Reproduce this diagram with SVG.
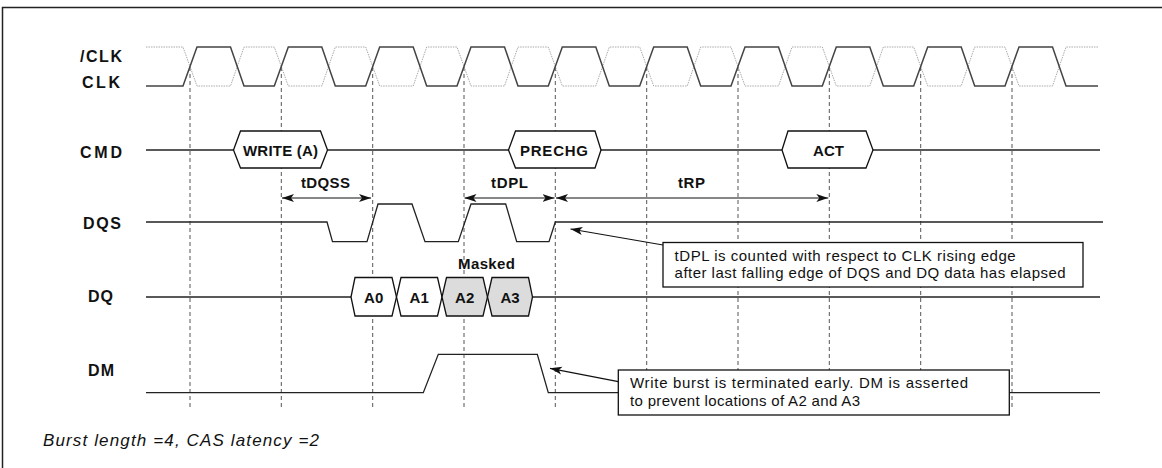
<svg xmlns="http://www.w3.org/2000/svg" width="1162" height="468" viewBox="0 0 1162 468">
<defs>
<style>
.lbl{font-family:"Liberation Sans",Arial,sans-serif;font-size:15px;font-weight:bold;fill:#111}
.sig{font-family:"Liberation Sans",Arial,sans-serif;font-size:16px;font-weight:bold;fill:#111}
.txt{font-family:"Liberation Sans",Arial,sans-serif;font-size:15px;fill:#111}
.foot{font-family:"Liberation Sans",Arial,sans-serif;font-size:17px;font-style:italic;fill:#111}
.grid{stroke:#555;stroke-width:1;stroke-dasharray:4,3;fill:none}
.wave{stroke:#222;stroke-width:1.3;fill:none}
.clk{stroke:#444;stroke-width:1.5;fill:none}
.nclk{stroke:#aaa;stroke-width:1;stroke-dasharray:1.5,1;fill:none}
.box{stroke:#111;stroke-width:1.3;fill:#fff}
.mbox{stroke:#111;stroke-width:1.3;fill:#dcdcdc}
.dim{stroke:#111;stroke-width:1.2;fill:none}
.note{stroke:#111;stroke-width:1.3;fill:#fff}
</style>
<marker id="ah" viewBox="0 -5 12 10" refX="12" refY="0" markerWidth="12" markerHeight="10" markerUnits="userSpaceOnUse" orient="auto-start-reverse">
<path d="M0,-4 L12,0 L0,4 L3,0 z" fill="#111"/>
</marker>
</defs>
<rect x="2.5" y="7.5" width="1200" height="500" fill="none" stroke="#222" stroke-width="1.5"/>

<g id="gridlines">
<path class="grid" d="M190,67V407M281.3,67V407M372.7,67V407M464,67V407M555.3,67V407M646.7,67V407M738,67V407M829.3,67V407M920.7,67V407M1012,67V407"/>
</g>

<g id="clk">
<text class="sig" x="80" y="62" textLength="42" lengthAdjust="spacing">/CLK</text>
<text class="sig" x="82" y="88" textLength="38" lengthAdjust="spacing">CLK</text>
<path class="nclk" d="M146,47 L183,47 L197,86 L230.5,86 L244,47 L274.3,47 L288.3,86 L321.8,86 L335.3,47 L365.7,47 L379.7,86 L413.2,86 L426.7,47 L457,47 L471,86 L504.5,86 L518,47 L548.3,47 L562.3,86 L595.8,86 L609.3,47 L639.7,47 L653.7,86 L687.2,86 L700.7,47 L731,47 L745,86 L778.5,86 L792,47 L822.3,47 L836.3,86 L869.8,86 L883.3,47 L913.7,47 L927.7,86 L961.2,86 L974.7,47 L1005,47 L1019,86 L1052.5,86 L1066,47 L1098,47"/>
<path class="clk" d="M146,86 L183,86 L197,47 L230.5,47 L244,86 L274.3,86 L288.3,47 L321.8,47 L335.3,86 L365.7,86 L379.7,47 L413.2,47 L426.7,86 L457,86 L471,47 L504.5,47 L518,86 L548.3,86 L562.3,47 L595.8,47 L609.3,86 L639.7,86 L653.7,47 L687.2,47 L700.7,86 L731,86 L745,47 L778.5,47 L792,86 L822.3,86 L836.3,47 L869.8,47 L883.3,86 L913.7,86 L927.7,47 L961.2,47 L974.7,86 L1005,86 L1019,47 L1052.5,47 L1066,86 L1098,86"/>
</g>

<g id="cmd">
<text class="sig" x="80" y="158" textLength="42" lengthAdjust="spacing">CMD</text>
<path class="wave" d="M146,150 H1100"/>
</g>
<g id="cmd-write">
<polygon class="box" points="233.5,150 240.5,131 320.5,131 327.5,150 320.5,168 240.5,168"/>
<text class="lbl" x="243" y="156" textLength="75" lengthAdjust="spacing">WRITE (A)</text>
</g>
<g id="cmd-prechg">
<polygon class="box" points="508.5,150 515.5,131 595,131 601,150 595,168 515.5,168"/>
<text class="lbl" x="520" y="156" textLength="68" lengthAdjust="spacing">PRECHG</text>
</g>
<g id="cmd-act">
<polygon class="box" points="782,150 788,131 866,131 873,150 866,168 788,168"/>
<text class="lbl" x="813" y="156" textLength="31" lengthAdjust="spacing">ACT</text>
</g>

<g id="timing">
<text class="lbl" x="301" y="188" textLength="49" lengthAdjust="spacing">tDQSS</text>
<text class="lbl" x="491" y="188" textLength="37" lengthAdjust="spacing">tDPL</text>
<text class="lbl" x="678" y="188" textLength="27" lengthAdjust="spacing">tRP</text>
</g>

<g id="dqs">
<text class="sig" x="83" y="229" textLength="38" lengthAdjust="spacing">DQS</text>
<path class="wave" d="M146,222 L327,222 L332.5,241.7 L367,241.7 L378,204 L412,204 L425,241.7 L458.3,241.7 L471,204 L505.7,204 L516.7,241.7 L549,241.7 L555.3,222 L1103,222"/>
</g>

<g id="dq">
<text class="sig" x="88" y="302" textLength="25" lengthAdjust="spacing">DQ</text>
<path class="wave" d="M146,297 H1100"/>
<text class="lbl" x="458" y="269" textLength="57" lengthAdjust="spacing">Masked</text>
</g>
<g id="dq-a0">
<polygon class="box" points="351,297 355,277.5 392,277.5 396.5,297 392,316 355,316"/>
<text class="lbl" x="373.7" y="303" text-anchor="middle">A0</text>
</g>
<g id="dq-a1">
<polygon class="box" points="396.5,297 401,277.5 437.5,277.5 442,297 437.5,316 401,316"/>
<text class="lbl" x="419.2" y="303" text-anchor="middle">A1</text>
</g>
<g id="dq-a2">
<polygon class="mbox" points="442,297 446.5,277.5 483,277.5 487.5,297 483,316 446.5,316"/>
<text class="lbl" x="464.7" y="303" text-anchor="middle">A2</text>
</g>
<g id="dq-a3">
<polygon class="mbox" points="487.5,297 492,277.5 528.5,277.5 532.5,297 528.5,316 492,316"/>
<text class="lbl" x="510" y="303" text-anchor="middle">A3</text>
</g>

<g id="dm">
<text class="sig" x="88" y="376" textLength="26" lengthAdjust="spacing">DM</text>
<path class="wave" d="M146,392.7 L423.3,392.7 L438.3,354.3 L537.3,354.3 L548.3,392.7 L1100,392.7"/>
</g>

<g id="note-tdpl">
<rect class="note" x="663" y="242.5" width="420" height="44.5"/>
<text class="txt" x="674.6" y="261" textLength="341" lengthAdjust="spacing">tDPL is counted with respect to CLK rising edge</text>
<text class="txt" x="674.6" y="278" textLength="391" lengthAdjust="spacing">after last falling edge of DQS and DQ data has elapsed</text>
</g>
<g id="note-dm">
<rect class="note" x="618.3" y="370" width="391" height="45"/>
<text class="txt" x="630" y="388" textLength="338" lengthAdjust="spacing">Write burst is terminated early. DM is asserted</text>
<text class="txt" x="630" y="406" textLength="230" lengthAdjust="spacing">to prevent locations of A2 and A3</text>
</g>

<g id="connectors">
<path class="dim" d="M282,198 H371" marker-start="url(#ah)" marker-end="url(#ah)"/>
<path class="dim" d="M464.5,198 H554.5" marker-start="url(#ah)" marker-end="url(#ah)"/>
<path class="dim" d="M556,198 H828.3" marker-start="url(#ah)" marker-end="url(#ah)"/>
<path class="dim" d="M663,245 L570.5,229" marker-end="url(#ah)"/>
<path class="dim" d="M618.3,381.7 L550,368.3" marker-end="url(#ah)"/>
</g>

<text class="foot" x="43" y="446" textLength="276" lengthAdjust="spacing">Burst length =4, CAS latency =2</text>
</svg>
